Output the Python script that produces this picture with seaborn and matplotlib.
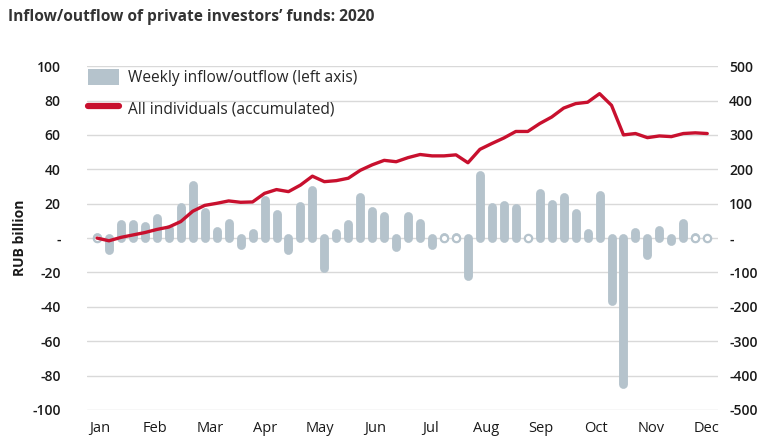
import numpy as np
import pandas as pd
import seaborn as sns
import matplotlib.pyplot as plt
from matplotlib.patches import Patch
from matplotlib.lines import Line2D

# Weekly flows (RUB bn, left axis) and accumulated total (RUB bn, right axis)
weekly_flow = [0.5, -7, 8, 8, 7, 11.5, 5, 18, 31, 15, 4, 8.5, -4, 2.7, 22, 14,
               -7, 18.6, 28, -17.6, 3, 8, 24, 16, 13, -5, 13, 9, -4, 0.8, 0.8,
               -22, 36.6, 18, 19, 17.5, 0.2, 26, 19.7, 23.6, 14.5, 2.7, 25,
               -36.4, -85, 3.8, -10, 4.8, -2, 8.5, 0.8, 0.2]
accumulated = [0, -8, 2, 9, 16, 25, 32, 48, 78, 95, 101, 108, 104, 105, 130,
               141, 135, 154, 180, 164, 167, 174, 197, 213, 226, 222, 234, 243,
               239, 239, 242, 219, 258, 275, 291, 310, 310, 333, 352, 378, 391,
               395, 420, 386, 300, 304, 292, 297, 295, 304, 306, 304]
months = ["Jan", "Feb", "Mar", "Apr", "May", "Jun",
          "Jul", "Aug", "Sep", "Oct", "Nov", "Dec"]

df = pd.DataFrame({"week": np.arange(len(weekly_flow)),
                   "flow": weekly_flow,
                   "accum": accumulated})

BAR = "#b5c3cc"
RED = "#c8102e"
GRID = "#d9d9d9"
TXT = "#1a1a1a"

sns.set_style("white")
plt.rcParams["font.family"] = ["Open Sans", "DejaVu Sans"]

fig = plt.figure(figsize=(7.59, 4.38), dpi=100)
ax = fig.add_axes([0.1146, 0.064, 0.8314, 0.785])
ax2 = ax.twinx()

# grid on left axis
ax.set_ylim(-100, 100)
ax.set_yticks(np.arange(-100, 101, 20))
for yv in np.arange(-100, 101, 20):
    ax.axhline(yv, color=GRID, lw=1, zorder=0)

# weekly bars with rounded ends; near-zero weeks show as small rings
ax.vlines(df["week"], 0, df["flow"], color=BAR, lw=6.4,
          capstyle="round", zorder=2)
tiny = df[df["flow"].abs() <= 1]
ax.scatter(tiny["week"], tiny["flow"] * 0, s=28, facecolors="white",
           edgecolors=BAR, linewidths=1.6, zorder=3)

# accumulated line
ax2.set_ylim(-500, 500)
ax2.set_yticks(np.arange(-500, 501, 100))
sns.lineplot(data=df, x="week", y="accum", ax=ax2, color=RED, lw=2.4,
             zorder=3)
ax2.set_ylabel("")
ax2.set_xlabel("")

ax.set_xlim(-0.84, 51.9)
ax.set_xticks(np.linspace(0.25, 50.9, 12))
ax.set_xticklabels(months)
ax.set_xlabel("")

ax.set_yticklabels(["-" if v == 0 else str(v) for v in np.arange(-100, 101, 20)])
ax2.set_yticklabels(["-" if v == 0 else str(v) for v in np.arange(-500, 501, 100)])

for a in (ax, ax2):
    for s in a.spines.values():
        s.set_visible(False)
    a.tick_params(length=0, colors=TXT)
ax.tick_params(axis="y", labelsize=10, pad=19)
ax2.tick_params(axis="y", labelsize=10, pad=8)
ax.tick_params(axis="x", labelsize=10.5, pad=8)
for lab in ax.get_yticklabels() + ax2.get_yticklabels():
    lab.set_fontweight("semibold")

ax.set_ylabel("RUB billion", fontsize=10, fontweight="bold", color=TXT,
              labelpad=4)
ax2.set_zorder(ax.get_zorder() + 1)
ax2.patch.set_visible(False)

handles = [Patch(facecolor=BAR, edgecolor="none"),
           Line2D([0], [0], color=RED, lw=4.5)]
leg = ax.legend(handles, ["Weekly inflow/outflow (left axis)",
                          "All individuals (accumulated)"],
                loc="upper left", bbox_to_anchor=(-0.008, 1.01),
                frameon=False, fontsize=11.2, handlelength=2.0,
                handleheight=1.25, handletextpad=0.55, labelspacing=0.85,
                borderaxespad=0)
leg.set_zorder(5)

fig.text(0.011, 0.962, "Inflow/outflow of private investors\u2019 funds: 2020",
         fontsize=11.2, fontweight="bold", color="#333333", ha="left",
         va="center")

fig.savefig("out.png", dpi=100, facecolor="white")
